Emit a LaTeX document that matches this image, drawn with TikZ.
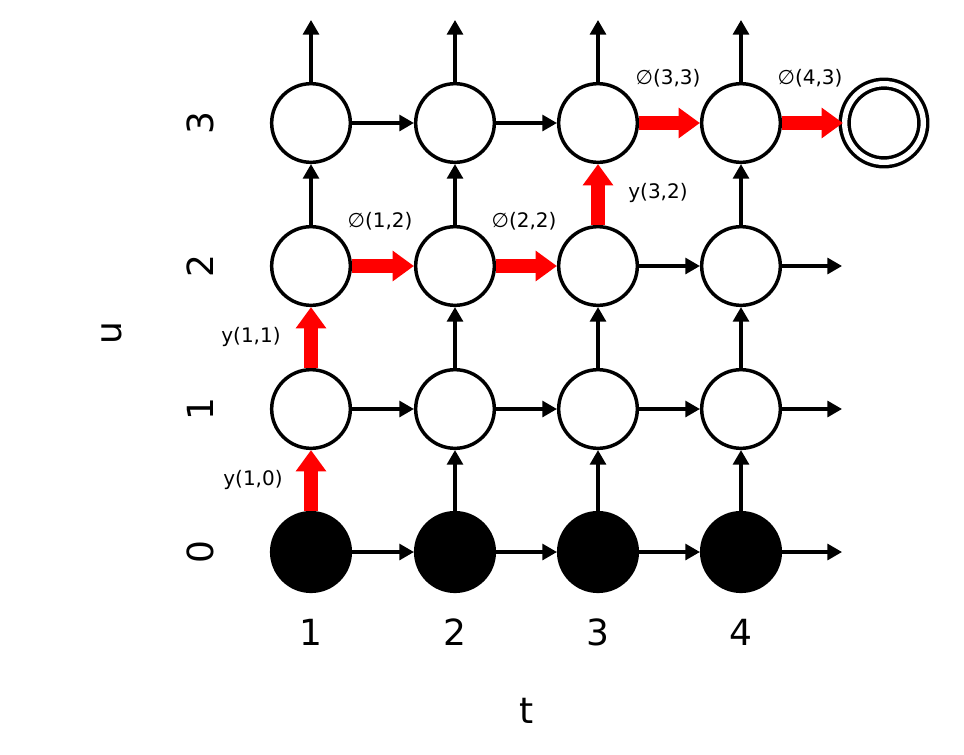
\documentclass[tikz,border=0pt]{standalone}
\usepackage{fontspec}
\setmainfont{DejaVu Sans}
\usetikzlibrary{arrows.meta}
\begin{document}
\begin{tikzpicture}[x=0.75pt,y=-0.75pt,
  st/.style={circle,draw,line width=2.6pt,minimum size=59pt,inner sep=0pt},
  blk/.style={st,fill=black},
  fin/.style={circle,draw,line width=2.6pt,minimum size=59pt,inner sep=0pt,double,double distance=4pt},
  ar/.style={line width=2.4pt,-{Triangle[length=11pt,width=12pt]}},
  red/.style={draw=red,line width=10pt,-{Triangle[length=16pt,width=22pt]}},
  lab/.style={font=\fontsize{15}{15}\selectfont},
  ax/.style={font=\fontsize{27}{27}\selectfont}]
\useasboundingbox (0,0) rectangle (964,754);
\foreach \c/\x in {1/311,2/455,3/598,4/741}{
  \node[blk] (n\c0) at (\x,552) {};
  \foreach \r/\y in {1/409,2/266,3/123} \node[st] (n\c\r) at (\x,\y) {};
  \coordinate (top\c) at (\x,20);
  \draw[ar] (n\c3) -- (top\c);
}
\node[fin] (f) at (884,123) {};
\foreach \r/\y in {0/552,1/409,2/266} \coordinate (out\r) at (842,\y);
% horizontal black
\draw[ar] (n10)--(n20); \draw[ar] (n20)--(n30); \draw[ar] (n30)--(n40); \draw[ar] (n40)--(out0);
\draw[ar] (n11)--(n21); \draw[ar] (n21)--(n31); \draw[ar] (n31)--(n41); \draw[ar] (n41)--(out1);
\draw[ar] (n32)--(n42); \draw[ar] (n42)--(out2);
\draw[ar] (n13)--(n23); \draw[ar] (n23)--(n33);
% vertical black
\draw[ar] (n20)--(n21); \draw[ar] (n30)--(n31); \draw[ar] (n40)--(n41);
\draw[ar] (n21)--(n22); \draw[ar] (n31)--(n32); \draw[ar] (n41)--(n42);
\draw[ar] (n12)--(n13); \draw[ar] (n22)--(n23); \draw[ar] (n42)--(n43);
% red path
\draw[red] (n10)--(n11); \draw[red] (n11)--(n12);
\draw[red] (n12)--(n22); \draw[red] (n22)--(n32);
\draw[red] (n32)--(n33); \draw[red] (n33)--(n43); \draw[red] (n43)--(f);
% labels
\node[lab] (l1) at (253,480) {y(1,0)};
\node[lab] (l2) at (251,337) {y(1,1)};
\node[lab] (l3) at (380,221) {∅(1,2)};
\node[lab] (l4) at (524,221) {∅(2,2)};
\node[lab] (l5) at (658,193) {y(3,2)};
\node[lab] (l6) at (668,78) {∅(3,3)};
\node[lab] (l7) at (810,78) {∅(4,3)};
% axes
\foreach \c/\x in {1/311,2/455,3/598,4/741} \node[ax] (t\c) at (\x,632) {\c};
\foreach \r/\y in {0/552,1/409,2/266,3/123} \node[ax,rotate=90] (u\r) at (200,\y) {\r};
\node[ax,rotate=90] (ul) at (112,333) {u};
\node[ax] (tl) at (527,711) {t};
\end{tikzpicture}
\end{document}
